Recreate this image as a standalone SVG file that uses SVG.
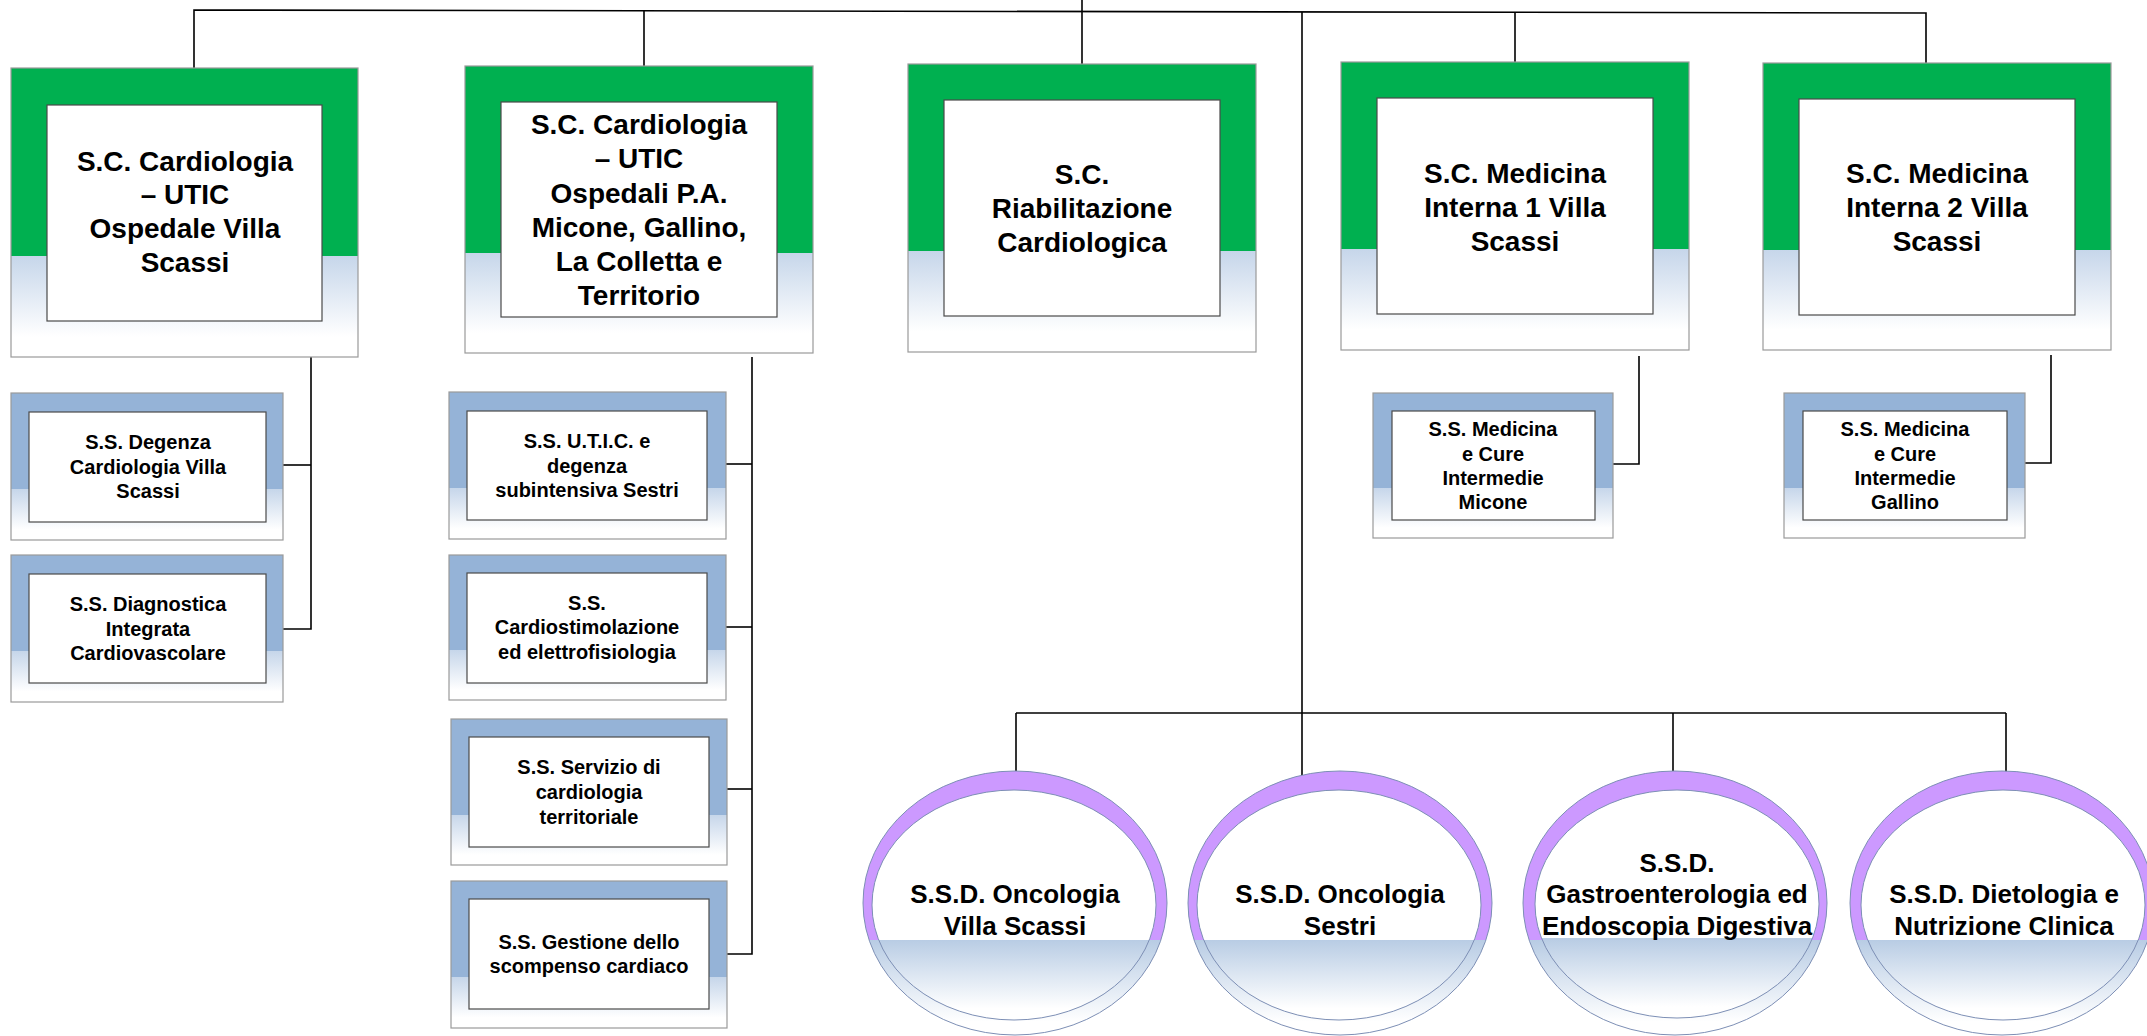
<svg xmlns="http://www.w3.org/2000/svg" width="2147" height="1036" viewBox="0 0 2147 1036">
<style>
.bg{fill:#ffffff}
.outG{fill:url(#gGreen);stroke:#9a9a9a;stroke-width:1.2}
.outB{fill:url(#gBlue);stroke:#9a9a9a;stroke-width:1.2}
.inn{fill:#ffffff;stroke:#4a4a4a;stroke-width:1.2}
.ellO{fill:url(#gPurple);stroke:#7d8fb5;stroke-width:1}
.ellI{fill:url(#gInner);stroke:#7d8fb5;stroke-width:1}
.con{fill:none;stroke:#000000;stroke-width:1.6}
.t1{font-family:"Liberation Sans",Arial,sans-serif;font-weight:bold;font-size:28px;text-anchor:middle;fill:#000}
.t2{font-family:"Liberation Sans",Arial,sans-serif;font-weight:bold;font-size:20px;text-anchor:middle;fill:#000}
.t3{font-family:"Liberation Sans",Arial,sans-serif;font-weight:bold;font-size:26px;text-anchor:middle;fill:#000}
</style>
<defs>
<linearGradient id="gGreen" x1="0" y1="0" x2="0" y2="1">
<stop offset="0" stop-color="#00b050"/><stop offset="0.65" stop-color="#00b050"/>
<stop offset="0.65" stop-color="#c6d6ea"/><stop offset="0.93" stop-color="#ffffff"/><stop offset="1" stop-color="#ffffff"/>
</linearGradient>
<linearGradient id="gBlue" x1="0" y1="0" x2="0" y2="1">
<stop offset="0" stop-color="#95b3d7"/><stop offset="0.655" stop-color="#95b3d7"/>
<stop offset="0.655" stop-color="#c6d6ea"/><stop offset="0.93" stop-color="#ffffff"/><stop offset="1" stop-color="#ffffff"/>
</linearGradient>
<linearGradient id="gPurple" x1="0" y1="0" x2="0" y2="1">
<stop offset="0" stop-color="#cc99ff"/><stop offset="0.64" stop-color="#cc99ff"/>
<stop offset="0.64" stop-color="#b8cce4"/><stop offset="0.95" stop-color="#ffffff"/><stop offset="1" stop-color="#ffffff"/>
</linearGradient>
<linearGradient id="gInner" x1="0" y1="0" x2="0" y2="1">
<stop offset="0" stop-color="#ffffff"/><stop offset="0.65" stop-color="#ffffff"/>
<stop offset="0.65" stop-color="#b8cce4"/><stop offset="0.95" stop-color="#ffffff"/><stop offset="1" stop-color="#ffffff"/>
</linearGradient>
</defs>
<rect class="bg" x="0" y="0" width="2147" height="1036"/>

<g id="connectors">
<polyline class="con" points="194,68 194,10 1926,13 1926,63"/>
<line class="con" x1="644" y1="11" x2="644" y2="66"/>
<line class="con" x1="1082" y1="0" x2="1082" y2="64"/>
<line class="con" x1="1515" y1="12" x2="1515" y2="62"/>
<line class="con" x1="1302" y1="12" x2="1302" y2="775"/>
<line class="con" x1="1016" y1="713" x2="2006" y2="713"/>
<line class="con" x1="1016" y1="713" x2="1016" y2="771"/>
<line class="con" x1="1673" y1="713" x2="1673" y2="771"/>
<line class="con" x1="2006" y1="713" x2="2006" y2="772"/>
<polyline class="con" points="311,357 311,629 283,629"/>
<line class="con" x1="283" y1="465" x2="311" y2="465"/>
<polyline class="con" points="752,357 752,954 727,954"/>
<line class="con" x1="726" y1="464" x2="752" y2="464"/>
<line class="con" x1="726" y1="627" x2="752" y2="627"/>
<line class="con" x1="727" y1="789" x2="752" y2="789"/>
<polyline class="con" points="1639,356 1639,464 1613,464"/>
<polyline class="con" points="2051,355 2051,463 2025,463"/>
</g>

<g id="sc-cardiologia-villa-scassi">
<rect class="outG" x="11" y="68" width="347" height="289"/>
<rect class="inn" x="47" y="105" width="275" height="216"/>
<text class="t1" x="185" y="171">S.C. Cardiologia</text>
<text class="t1" x="185" y="204">– UTIC</text>
<text class="t1" x="185" y="238">Ospedale Villa</text>
<text class="t1" x="185" y="272">Scassi</text>
</g>

<g id="sc-cardiologia-micone">
<rect class="outG" x="465" y="66" width="348" height="287"/>
<rect class="inn" x="501" y="102" width="276" height="215"/>
<text class="t1" x="639" y="134">S.C. Cardiologia</text>
<text class="t1" x="639" y="168">– UTIC</text>
<text class="t1" x="639" y="203">Ospedali P.A.</text>
<text class="t1" x="639" y="237">Micone, Gallino,</text>
<text class="t1" x="639" y="271">La Colletta e</text>
<text class="t1" x="639" y="305">Territorio</text>
</g>

<g id="sc-riabilitazione">
<rect class="outG" x="908" y="64" width="348" height="288"/>
<rect class="inn" x="944" y="100" width="276" height="216"/>
<text class="t1" x="1082" y="184">S.C.</text>
<text class="t1" x="1082" y="218">Riabilitazione</text>
<text class="t1" x="1082" y="252">Cardiologica</text>
</g>

<g id="sc-medicina-1">
<rect class="outG" x="1341" y="62" width="348" height="288"/>
<rect class="inn" x="1377" y="98" width="276" height="216"/>
<text class="t1" x="1515" y="183">S.C. Medicina</text>
<text class="t1" x="1515" y="217">Interna 1 Villa</text>
<text class="t1" x="1515" y="251">Scassi</text>
</g>

<g id="sc-medicina-2">
<rect class="outG" x="1763" y="63" width="348" height="287"/>
<rect class="inn" x="1799" y="99" width="276" height="216"/>
<text class="t1" x="1937" y="183">S.C. Medicina</text>
<text class="t1" x="1937" y="217">Interna 2 Villa</text>
<text class="t1" x="1937" y="251">Scassi</text>
</g>

<g id="ss-degenza">
<rect class="outB" x="11" y="393" width="272" height="147"/>
<rect class="inn" x="29" y="412" width="237" height="110"/>
<text class="t2" x="148" y="449">S.S. Degenza</text>
<text class="t2" x="148" y="474">Cardiologia Villa</text>
<text class="t2" x="148" y="498">Scassi</text>
</g>

<g id="ss-diagnostica">
<rect class="outB" x="11" y="555" width="272" height="147"/>
<rect class="inn" x="29" y="574" width="237" height="109"/>
<text class="t2" x="148" y="611">S.S. Diagnostica</text>
<text class="t2" x="148" y="636">Integrata</text>
<text class="t2" x="148" y="660">Cardiovascolare</text>
</g>

<g id="ss-utic">
<rect class="outB" x="449" y="392" width="277" height="147"/>
<rect class="inn" x="467" y="411" width="240" height="109"/>
<text class="t2" x="587" y="448">S.S. U.T.I.C. e</text>
<text class="t2" x="587" y="473">degenza</text>
<text class="t2" x="587" y="497">subintensiva Sestri</text>
</g>

<g id="ss-cardiostimolazione">
<rect class="outB" x="449" y="555" width="277" height="145"/>
<rect class="inn" x="467" y="573" width="240" height="110"/>
<text class="t2" x="587" y="610">S.S.</text>
<text class="t2" x="587" y="634">Cardiostimolazione</text>
<text class="t2" x="587" y="659">ed elettrofisiologia</text>
</g>

<g id="ss-servizio">
<rect class="outB" x="451" y="719" width="276" height="146"/>
<rect class="inn" x="469" y="737" width="240" height="110"/>
<text class="t2" x="589" y="774">S.S. Servizio di</text>
<text class="t2" x="589" y="799">cardiologia</text>
<text class="t2" x="589" y="824">territoriale</text>
</g>

<g id="ss-scompenso">
<rect class="outB" x="451" y="881" width="276" height="147"/>
<rect class="inn" x="469" y="899" width="240" height="110"/>
<text class="t2" x="589" y="949">S.S. Gestione dello</text>
<text class="t2" x="589" y="973">scompenso cardiaco</text>
</g>

<g id="ss-micone">
<rect class="outB" x="1373" y="393" width="240" height="145"/>
<rect class="inn" x="1392" y="411" width="203" height="109"/>
<text class="t2" x="1493" y="436">S.S. Medicina</text>
<text class="t2" x="1493" y="461">e Cure</text>
<text class="t2" x="1493" y="485">Intermedie</text>
<text class="t2" x="1493" y="509">Micone</text>
</g>

<g id="ss-gallino">
<rect class="outB" x="1784" y="393" width="241" height="145"/>
<rect class="inn" x="1803" y="411" width="204" height="109"/>
<text class="t2" x="1905" y="436">S.S. Medicina</text>
<text class="t2" x="1905" y="461">e Cure</text>
<text class="t2" x="1905" y="485">Intermedie</text>
<text class="t2" x="1905" y="509">Gallino</text>
</g>

<g id="ssd-oncologia-villa-scassi">
<ellipse class="ellO" cx="1015" cy="903" rx="152" ry="132"/>
<ellipse class="ellI" cx="1014" cy="905" rx="142" ry="115"/>
<text class="t3" x="1015" y="903">S.S.D. Oncologia</text>
<text class="t3" x="1015" y="935">Villa Scassi</text>
</g>

<g id="ssd-oncologia-sestri">
<ellipse class="ellO" cx="1340" cy="903" rx="152" ry="132"/>
<ellipse class="ellI" cx="1339" cy="905" rx="142" ry="115"/>
<text class="t3" x="1340" y="903">S.S.D. Oncologia</text>
<text class="t3" x="1340" y="935">Sestri</text>
</g>

<g id="ssd-gastroenterologia">
<ellipse class="ellO" cx="1675" cy="903" rx="152" ry="132"/>
<ellipse class="ellI" cx="1677" cy="904" rx="142" ry="114"/>
<text class="t3" x="1677" y="872">S.S.D.</text>
<text class="t3" x="1677" y="903">Gastroenterologia ed</text>
<text class="t3" x="1677" y="935">Endoscopia Digestiva</text>
</g>

<g id="ssd-dietologia">
<ellipse class="ellO" cx="2002" cy="903" rx="152" ry="132"/>
<ellipse class="ellI" cx="2003" cy="905" rx="142" ry="115"/>
<text class="t3" x="2004" y="903">S.S.D. Dietologia e</text>
<text class="t3" x="2004" y="935">Nutrizione Clinica</text>
</g>
</svg>
